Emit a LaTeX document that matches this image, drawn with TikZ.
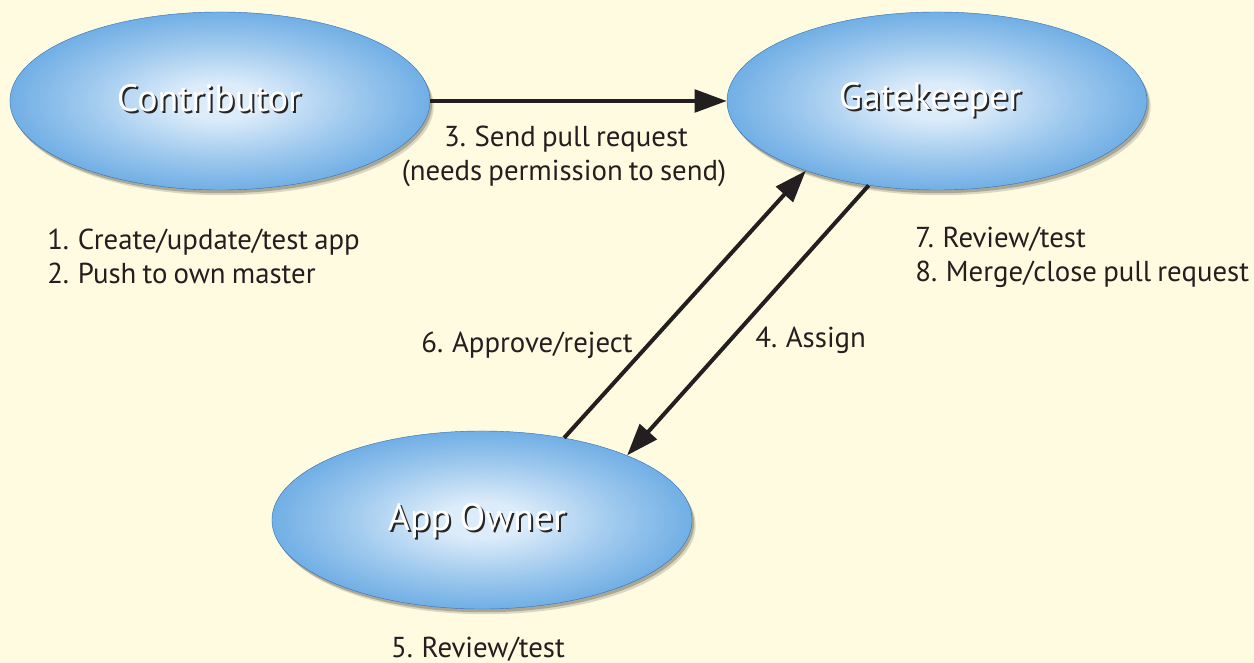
\documentclass[tikz,border=0pt]{standalone}
\usepackage{fontspec}
\setmainfont[WordSpace=0.8]{PT Sans}
\usetikzlibrary{arrows.meta,shapes.geometric,shadows}
\definecolor{bg}{RGB}{254,251,224}
\definecolor{ink}{RGB}{35,31,32}
\definecolor{bin}{RGB}{220,236,250}
\definecolor{bmid}{RGB}{108,172,228}
\definecolor{bout}{RGB}{60,134,210}
\definecolor{brim}{RGB}{52,114,188}
\pgfdeclareradialshading{bubble}{\pgfpoint{0bp}{0bp}}{color(0bp)=(bin); color(5bp)=(bin); color(16bp)=(bin!45!bmid); color(26bp)=(bmid); color(33bp)=(bout); color(35.5bp)=(bout!88!black); color(50bp)=(bout!88!black)}
\begin{document}
\begin{tikzpicture}[x=0.025cm,y=-0.025cm,
  actor/.style={ellipse, minimum width=10.5cm, minimum height=4.45cm, inner sep=0pt,
    shading=bubble, draw=brim, line width=0.3pt,
    drop shadow={shadow xshift=0.09cm, shadow yshift=-0.13cm, opacity=0.14, fill=black},
    drop shadow={shadow xshift=0.05cm, shadow yshift=-0.08cm, opacity=0.22, fill=black}},
  lab/.style={font=\fontsize{27}{32}\selectfont, text=white, inner sep=0pt, anchor=base},
  labshadow/.style={font=\fontsize{27}{32}\selectfont, text=black!85, inner sep=0pt, anchor=base},
  txt/.style={font=\fontsize{20.5}{25}\selectfont, text=ink, inner sep=0pt},
  conn/.style={line width=0.1cm, draw=ink, -{Triangle[length=0.8cm,width=0.56cm]}}]
\useasboundingbox (0,0) rectangle (1254,663);
\fill[bg] (0,0) rectangle (1254,663);

% actors
\node[actor] (contrib) at (220,101) {};
\node[actor] (gate) at (937,101) {};
\node[actor] (owner) at (482,520) {};

% actor labels with shadow
\node[labshadow] (contribS) at (211,114) {Contributor};
\node[lab] (contribL) at (209,112) {Contributor};
\node[labshadow] (gateS) at (932,112) {Gatekeeper};
\node[lab] (gateL) at (930,110) {Gatekeeper};
\node[labshadow] (ownerS) at (479,532) {App Owner};
\node[lab] (ownerL) at (477,530) {App Owner};

% connectors
\draw[conn] (contrib.east) -- (gate.west);
\draw[conn] (owner.45) -- (gate.208);
\draw[conn] (gate.231) -- (owner.24);

% texts
\node[txt, anchor=base] (send1) at (566,147) {3. Send pull request};
\node[txt, anchor=base] (send2) at (564,180) {(needs permission to send)};
\node[txt, anchor=base west] (s1) at (47,249) {1. Create/update/test app};
\node[txt, anchor=base west] (s2) at (47,283) {2. Push to own master};
\node[txt, anchor=base west] (s7) at (915,247) {7. Review/test};
\node[txt, anchor=base west] (s8) at (915,281) {8. Merge/close pull request};
\node[txt, anchor=base east] (s6) at (633,352) {6. Approve/reject};
\node[txt, anchor=base west] (s4) at (755,347) {4. Assign};
\node[txt, anchor=base] (s5) at (478,657) {5. Review/test};
\end{tikzpicture}
\end{document}
